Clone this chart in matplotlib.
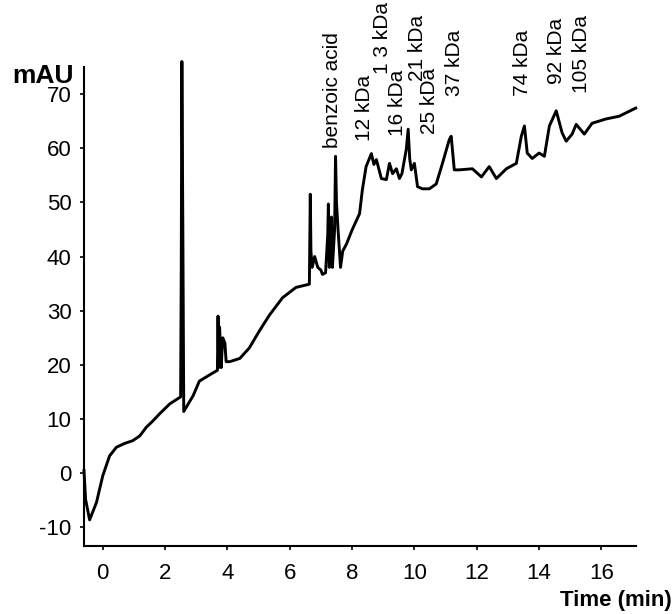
import matplotlib
matplotlib.use('Agg')
import matplotlib.pyplot as plt

plt.rcParams['font.family'] = ['Liberation Sans', 'DejaVu Sans']
plt.rcParams['axes.unicode_minus'] = False

# chromatogram trace (time in min, absorbance in mAU)
time_min = [-0.6, -0.55, -0.42, -0.2, 0.0, 0.22, 0.44, 0.7, 0.96, 1.19, 1.4, 1.6, 1.83, 2.15,
            2.5, 2.52, 2.54, 2.57, 2.6, 2.9, 3.1, 3.5, 3.68, 3.7, 3.72, 3.75, 3.8, 3.85, 3.92,
            3.96, 4.08, 4.4, 4.7, 5.03, 5.35, 5.77, 6.2, 6.63, 6.66, 6.68, 6.72, 6.8, 6.9, 7.0,
            7.05, 7.15, 7.22, 7.24, 7.27, 7.32, 7.34, 7.37, 7.44, 7.47, 7.5, 7.55, 7.63, 7.7,
            7.82, 8.0, 8.24, 8.33, 8.45, 8.62, 8.7, 8.78, 8.94, 9.1, 9.2, 9.3, 9.42, 9.52, 9.6,
            9.74, 9.8, 9.85, 9.9, 10.0, 10.1, 10.26, 10.48, 10.7, 10.9, 11.12, 11.18, 11.28,
            11.44, 11.86, 12.15, 12.4, 12.63, 12.95, 13.27, 13.43, 13.53, 13.62, 13.78, 14.0,
            14.17, 14.33, 14.55, 14.74, 14.87, 15.06, 15.19, 15.45, 15.7, 16.15, 16.57, 17.1]
mau = [0.5, -4.8, -8.6, -5.4, -0.5, 3.2, 4.8, 5.5, 6.0, 6.9, 8.5, 9.6, 11.0, 12.8,
       14.1, 37.5, 76.0, 46.0, 11.4, 14.3, 17.0, 18.4, 19.0, 29.0, 19.5, 27.0, 19.5, 25.0, 24.0,
       20.6, 20.6, 21.2, 23.1, 26.3, 29.2, 32.4, 34.3, 34.9, 51.5, 41.0, 38.0, 40.0, 38.0, 37.5,
       36.7, 37.0, 44.0, 49.7, 38.0, 45.0, 47.3, 38.0, 45.0, 58.5, 50.0, 45.0, 38.0, 41.0,
       42.3, 44.9, 47.9, 52.3, 56.6, 59.0, 57.0, 57.9, 54.4, 54.2, 57.2, 55.3, 56.2, 54.4, 55.3,
       59.8, 63.5, 58.0, 56.0, 57.2, 52.9, 52.5, 52.5, 53.4, 57.2, 61.6, 62.2, 56.0,
       56.0, 56.2, 54.7, 56.6, 54.4, 56.2, 57.2, 62.2, 64.1, 59.1, 58.1, 59.1,
       58.5, 64.1, 66.9, 62.8, 61.3, 62.6, 64.4, 62.6, 64.6, 65.4, 65.9, 67.4]

# peak labels and where they sit
peak_names = ['benzoic acid', '12 kDa', '1 3 kDa', '16 kDa', '21 kDa', '25 kDa',
              '37 kDa', '74 kDa', '92 kDa', '105 kDa']
peak_times = [7.37, 8.4, 8.97, 9.45, 10.1, 10.48, 11.28, 13.46, 14.55, 15.35]
peak_label_y = [60.0, 61.3, 73.7, 62.2, 72.4, 62.6, 69.6, 69.6, 71.9, 70.2]

x_ticks = [0, 2, 4, 6, 8, 10, 12, 14, 16]
y_ticks = [-10, 0, 10, 20, 30, 40, 50, 60, 70]

fig = plt.figure(figsize=(6.72, 6.14), dpi=100)
ax = fig.add_axes([0.125, 0.111, 0.821, 0.78])

ax.plot(time_min, mau, color='black', linewidth=2.1, clip_on=False)

for name, t, y in zip(peak_names, peak_times, peak_label_y):
    ax.text(t, y, name, rotation=90, ha='center', va='bottom', fontsize=15)

ax.set_xlim(-0.6, 17.1)
ax.set_ylim(-13.4, 75.0)
ax.set_xticks(x_ticks)
ax.set_yticks(y_ticks)
ax.tick_params(labelsize=16, length=3, width=1.2, direction='out')
ax.tick_params(axis='x', pad=9)
ax.tick_params(axis='y', pad=6)

ax.spines['top'].set_visible(False)
ax.spines['right'].set_visible(False)
ax.spines['left'].set_linewidth(1.5)
ax.spines['bottom'].set_linewidth(1.5)

fig.text(12 / 672, 1 - 83 / 614, 'mAU', fontsize=19, fontweight='bold', ha='left', va='baseline')
fig.text(1.0, 1 - 606 / 614, 'Time (min)', fontsize=16, fontweight='bold', ha='right', va='baseline')

fig.savefig('out.png', dpi=100)
